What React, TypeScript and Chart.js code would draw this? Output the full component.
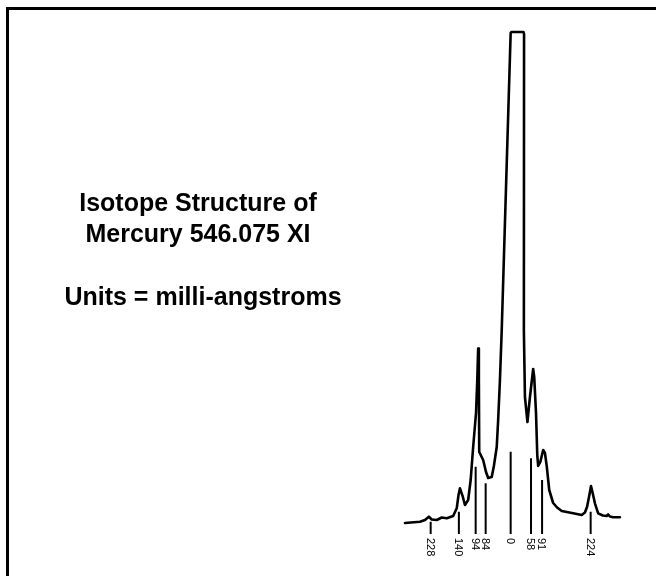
import React, { useEffect, useRef } from "react";
import { Chart, registerables } from "chart.js";

Chart.register(...registerables);

// Spectrum trace: x = shift in milli-angstroms, y = relative intensity
const spectrumX = [
  -296, -254, -240, -229, -221, -207, -193, -179, -161, -151, -146, -142, -134, -128, -119, -112,
  -105, -97, -93.5, -91, -89, -88, -77, -69, -63, -53, -47, -39, -35, -30, -25, 0, 2, 36, 37.5,
  37, 40, 47, 54, 63, 66, 71, 74.5, 77, 83, 91, 96, 101, 108, 119, 130, 143, 175, 199, 208, 214,
  221, 225, 229, 236, 245, 258, 269, 273, 278, 287, 306,
];
const spectrumY = [
  -3, -1.7, 0, 3.3, 0.5, 0, 2.5, 1.7, 4, 11.7, 25, 31.7, 23.3, 15, 20, 40,
  73, 107, 140, 171.5, 140, 68, 60, 48, 42, 43, 54, 73, 100, 140, 190, 487, 488, 488, 486,
  190, 123, 98, 123, 151, 143, 107, 65, 54, 58, 70, 67, 54, 30, 17, 12.5, 9, 6.7, 5, 7.5, 13.3,
  26, 34, 28, 16.7, 6.7, 4.5, 4, 5.5, 3.5, 2.7, 2.7,
];

// Isotope marker lines
const tickPositions = [-224, -145, -98, -70, 0, 57, 88, 224];
const tickLabels = ["228", "140", "94", "84", "0", "58", "91", "224"];
const tickTops = [-1.7, 8.3, 53.3, 36.7, 68.3, 61.7, 40, 8.3];
const tickBottom = -14;
const labelStart = -18;

const titleLines = ["Isotope Structure of", "Mercury 546.075 XI"];
const unitsLine = "Units = milli-angstroms";

const tickLabelPlugin = {
  id: "tickLabels",
  afterDatasetsDraw(chart: any) {
    const { ctx, scales } = chart;
    const x = scales.x;
    const y = scales.y;
    ctx.save();
    ctx.font = '11px "Liberation Sans", Arial, sans-serif';
    ctx.fillStyle = "#000";
    ctx.textAlign = "left";
    ctx.textBaseline = "middle";
    tickPositions.forEach((p, i) => {
      const px = x.getPixelForValue(p);
      const py = y.getPixelForValue(labelStart);
      ctx.save();
      ctx.translate(px - 1, py);
      ctx.rotate(Math.PI / 2);
      ctx.fillText(tickLabels[i], 0, 0);
      ctx.restore();
    });
    ctx.restore();
  },
};

export default function App() {
  const canvasRef = useRef<HTMLCanvasElement | null>(null);

  useEffect(() => {
    if (!canvasRef.current) return;
    const spectrum = spectrumX.map((x, i) => ({ x, y: spectrumY[i] }));
    const ticks: any[] = [];
    tickPositions.forEach((p, i) => {
      ticks.push({ x: p, y: tickTops[i] });
      ticks.push({ x: p, y: tickBottom });
      ticks.push({ x: p, y: null });
    });
    const chart = new Chart(canvasRef.current, {
      type: "line",
      data: {
        datasets: [
          {
            label: "Spectrum",
            data: spectrum,
            borderColor: "#000",
            borderWidth: 2.6,
            borderJoinStyle: "round",
            borderCapStyle: "round",
            pointRadius: 0,
            tension: 0,
            fill: false,
          },
          {
            label: "Markers",
            data: ticks,
            borderColor: "#000",
            borderWidth: 2,
            pointRadius: 0,
            tension: 0,
            spanGaps: false,
            fill: false,
          },
        ],
      },
      options: {
        responsive: false,
        maintainAspectRatio: false,
        animation: false,
        layout: { padding: 0 },
        plugins: {
          legend: { display: false },
          tooltip: { enabled: false },
          title: { display: false },
        },
        scales: {
          x: { type: "linear", min: -1430, max: 407, display: false },
          y: { type: "linear", min: -56, max: 520, display: false },
        },
      },
      plugins: [tickLabelPlugin],
    } as any);
    return () => chart.destroy();
  }, []);

  const titleStyle: React.CSSProperties = {
    position: "absolute",
    width: 400,
    textAlign: "center",
    fontFamily: '"Liberation Sans", Arial, sans-serif',
    fontWeight: "bold",
    fontSize: 25,
    lineHeight: "31px",
    color: "#000",
    whiteSpace: "nowrap",
  };

  return (
    <div
      style={{
        position: "fixed",
        left: 0,
        top: 0,
        width: 656,
        height: 576,
        background: "#fff",
        overflow: "hidden",
      }}
    >
      <canvas
        ref={canvasRef}
        width={656}
        height={576}
        style={{ position: "absolute", left: 0, top: 0, width: 656, height: 576 }}
      />
      <div
        style={{
          position: "absolute",
          left: 6,
          top: 7,
          width: 800,
          height: 800,
          borderLeft: "3px solid #000",
          borderTop: "3px solid #000",
          pointerEvents: "none",
        }}
      />
      <div style={{ ...titleStyle, left: -2, top: 187 }}>
        {titleLines.map((t) => (
          <div key={t}>{t}</div>
        ))}
      </div>
      <div style={{ ...titleStyle, left: 3, top: 281 }}>{unitsLine}</div>
    </div>
  );
}
